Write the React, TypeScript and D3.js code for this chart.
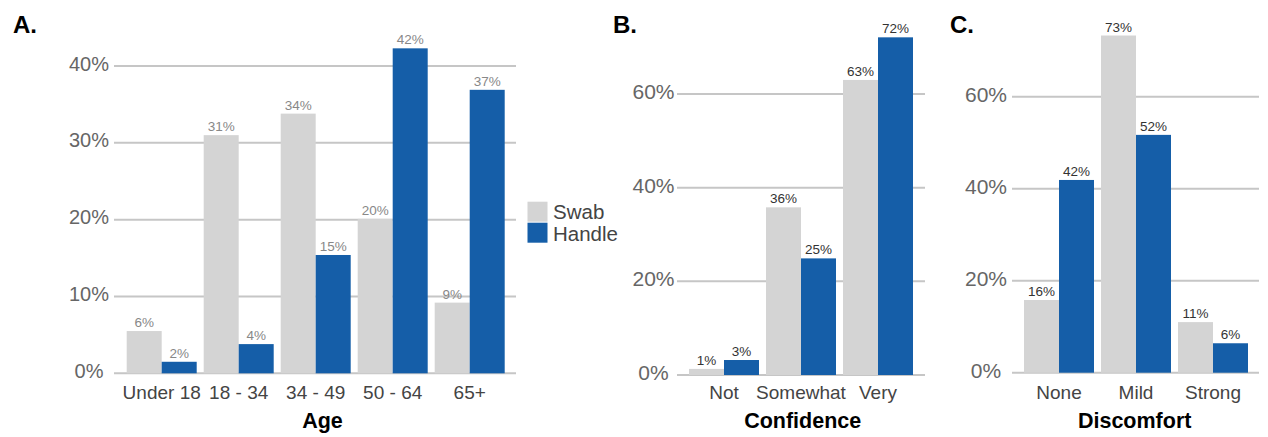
import React, { useEffect, useRef } from "react";
import * as d3 from "d3";

const seriesNames = ["Swab", "Handle"];
const seriesColors = ["#d4d4d4", "#155ea8"];

const ageCategories = ["Under 18", "18 - 34", "34 - 49", "50 - 64", "65+"];
const ageSwab = [5.5, 31.0, 33.8, 20.1, 9.2];
const ageHandle = [1.5, 3.8, 15.4, 42.3, 36.9];
const ageTicks = [0, 10, 20, 30, 40];

const confCategories = ["Not", "Somewhat", "Very"];
const confSwab = [1.3, 35.8, 63.0];
const confHandle = [3.2, 24.9, 72.1];
const confTicks = [0, 20, 40, 60];

const discCategories = ["None", "Mild", "Strong"];
const discSwab = [15.8, 73.3, 11.0];
const discHandle = [41.9, 51.7, 6.4];
const discTicks = [0, 20, 40, 60];

const FONT = "'Liberation Sans', Arial, Helvetica, sans-serif";

type Panel = {
  letter: string;
  letterX: number;
  title: string;
  titleX: number;
  categories: string[];
  values: number[][];
  ticks: number[];
  yDomainMax: number;
  yRange: [number, number];
  xRange: [number, number];
  gridX: [number, number];
  tickX: number;
  tickSize: number;
  tickDy: number;
  valueColor: string;
};

const panels: Panel[] = [
  {
    letter: "A.", letterX: 13, title: "Age", titleX: 322.5,
    categories: ageCategories, values: [ageSwab, ageHandle], ticks: ageTicks,
    yDomainMax: 40, yRange: [373.3, 66], xRange: [119.7, 511.7], gridX: [114, 516],
    tickX: 89, tickSize: 20, tickDy: 4.5, valueColor: "#888",
  },
  {
    letter: "B.", letterX: 613, title: "Confidence", titleX: 802.7,
    categories: confCategories, values: [confSwab, confHandle], ticks: confTicks,
    yDomainMax: 60, yRange: [375, 94], xRange: [682, 920], gridX: [677, 925],
    tickX: 653.5, tickSize: 21, tickDy: 5, valueColor: "#333",
  },
  {
    letter: "C.", letterX: 950, title: "Discomfort", titleX: 1134.7,
    categories: discCategories, values: [discSwab, discHandle], ticks: discTicks,
    yDomainMax: 60, yRange: [372.7, 96.7], xRange: [1017, 1255], gridX: [1012, 1259],
    tickX: 986, tickSize: 21, tickDy: 5, valueColor: "#333",
  },
];

export default function App() {
  const ref = useRef<SVGSVGElement | null>(null);

  useEffect(() => {
    const svg = d3.select(ref.current);
    svg.selectAll("*").remove();
    svg.append("rect").attr("width", 1268).attr("height", 437).attr("fill", "#fff");

    panels.forEach((p) => {
      const g = svg.append("g");
      const y = d3.scaleLinear().domain([0, p.yDomainMax]).range(p.yRange);
      const x0 = d3.scaleBand<string>().domain(p.categories).range(p.xRange)
        .paddingInner(0.0909).paddingOuter(0.0909);
      const x1 = d3.scaleBand<string>().domain(seriesNames).range([0, x0.bandwidth()]);

      g.selectAll("line.grid").data(p.ticks).enter().append("line")
        .attr("x1", p.gridX[0]).attr("x2", p.gridX[1])
        .attr("y1", (d) => y(d)).attr("y2", (d) => y(d))
        .attr("stroke", "#c6c6c6").attr("stroke-width", 2);

      g.selectAll("text.tick").data(p.ticks).enter().append("text")
        .attr("x", p.tickX).attr("y", (d) => y(d) + p.tickDy)
        .attr("text-anchor", "middle")
        .attr("font-family", FONT).attr("font-size", p.tickSize)
        .attr("fill", "#666")
        .text((d) => `${d}%`);

      p.values.forEach((vals, si) => {
        const sname = seriesNames[si];
        g.selectAll(`rect.s${si}`).data(vals).enter().append("rect")
          .attr("x", (_d, i) => (x0(p.categories[i]) as number) + (x1(sname) as number))
          .attr("y", (d) => y(d))
          .attr("width", x1.bandwidth())
          .attr("height", (d) => y(0) - y(d))
          .attr("fill", seriesColors[si]);
        g.selectAll(`text.v${si}`).data(vals).enter().append("text")
          .attr("x", (_d, i) => (x0(p.categories[i]) as number) + (x1(sname) as number) + x1.bandwidth() / 2)
          .attr("y", (d) => y(d) - 4)
          .attr("text-anchor", "middle")
          .attr("font-family", FONT).attr("font-size", 13.5)
          .attr("fill", p.valueColor)
          .text((d) => `${Math.round(d)}%`);
      });

      g.selectAll("text.cat").data(p.categories).enter().append("text")
        .attr("x", (d) => (x0(d) as number) + x0.bandwidth() / 2)
        .attr("y", 399)
        .attr("text-anchor", "middle")
        .attr("font-family", FONT).attr("font-size", 19)
        .attr("fill", "#444")
        .text((d) => d)
        .each(function () {
          const el = this as SVGTextElement;
          const w = el.getComputedTextLength();
          const cx = +el.getAttribute("x")!;
          if (cx - w / 2 < p.gridX[0]) el.setAttribute("x", String(p.gridX[0] + 1 + w / 2));
        });

      g.append("text").attr("x", p.titleX).attr("y", 428)
        .attr("text-anchor", "middle").attr("font-family", FONT)
        .attr("font-size", 21.5).attr("font-weight", "bold").attr("fill", "#000")
        .text(p.title);

      g.append("text").attr("x", p.letterX).attr("y", 32.5)
        .attr("font-family", FONT).attr("font-size", 24)
        .attr("font-weight", "bold").attr("fill", "#000")
        .text(p.letter);
    });

    const lg = svg.append("g");
    seriesNames.forEach((name, i) => {
      lg.append("rect").attr("x", 527.5).attr("y", 201.7 + i * 21)
        .attr("width", 20).attr("height", 20).attr("fill", seriesColors[i]);
      lg.append("text").attr("x", 553).attr("y", 218.5 + i * 22)
        .attr("font-family", FONT).attr("font-size", 20.5).attr("fill", "#444")
        .text(name);
    });
  }, []);

  return (
    <div style={{ position: "absolute", left: 0, top: 0 }}>
      <svg ref={ref} width={1268} height={437} style={{ display: "block" }} />
    </div>
  );
}
